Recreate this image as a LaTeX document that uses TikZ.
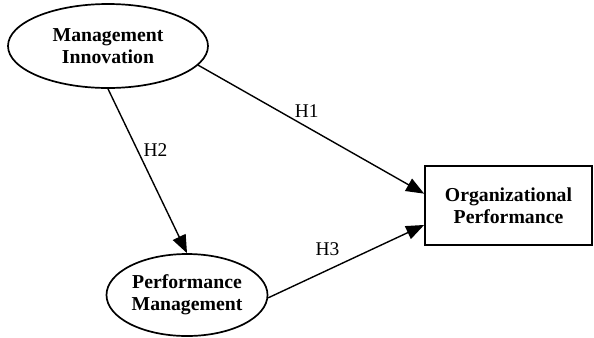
\documentclass[tikz,border=0pt]{standalone}
\usepackage{fontspec}
\setmainfont{Liberation Serif}
\usetikzlibrary{shapes.geometric,arrows.meta}
\begin{document}
\begin{tikzpicture}[x=1bp,y=-1bp,
  lbl/.style={font=\fontsize{19.5}{22}\selectfont},
  cons/.style={draw,line width=1.7bp,align=center,inner sep=0pt,
     font=\fontsize{19.8}{22.5}\selectfont\bfseries},
  oval/.style={cons,ellipse},
  boxn/.style={cons,rectangle},
  conn/.style={line width=1.4bp,-{Triangle[length=18bp,width=14bp]}}]
\useasboundingbox (0,0) rectangle (594,337);
\node[oval,minimum width=200bp,minimum height=84bp] (mi) at (108,46) {Management\\Innovation};
\node[oval,minimum width=161bp,minimum height=82bp] (pm) at (187,295) {Performance\\Management};
\node[boxn,minimum width=167bp,minimum height=79bp] (op) at (508.5,205.5) {Organizational\\Performance};
\draw[conn] (mi.-12) -- node[lbl,pos=0.48,yshift=16bp]{H1} (op.172.8);
\draw[conn] (mi.south) -- node[lbl,pos=0.373,xshift=18bp]{H2} (pm.north);
\draw[conn] (pm.-2) -- node[lbl,pos=0.38,yshift=21bp]{H3} (op.193);
\end{tikzpicture}
\end{document}
